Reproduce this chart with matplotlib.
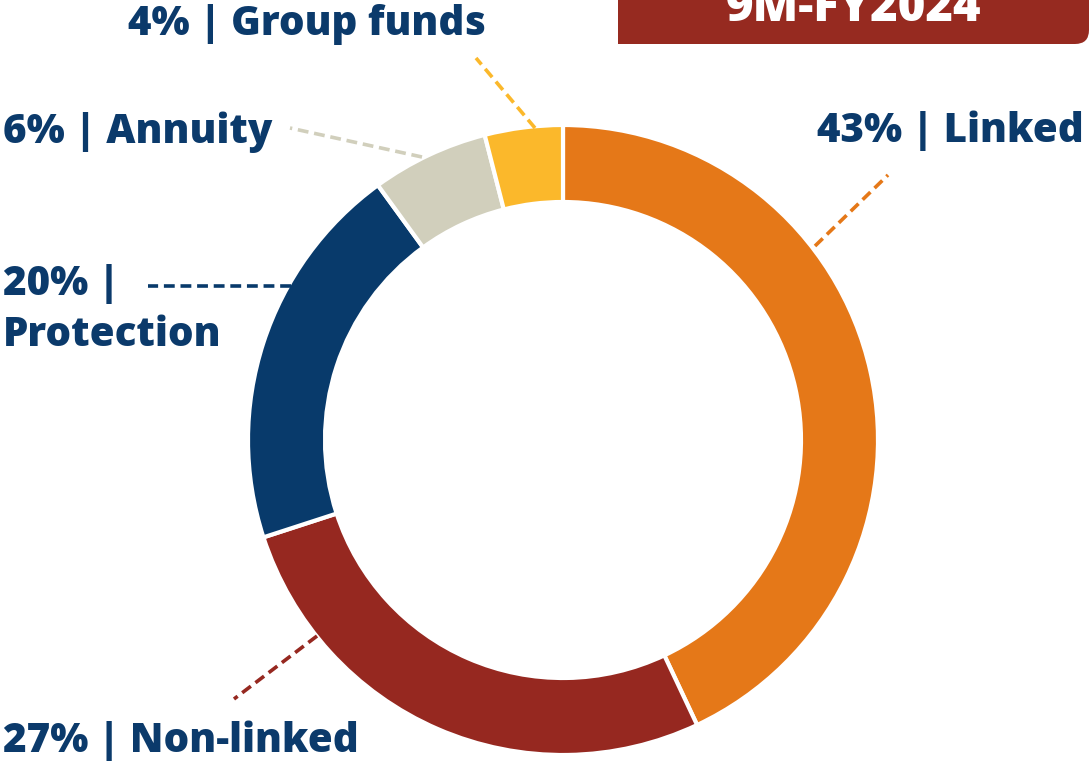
import matplotlib
matplotlib.use("Agg")
import matplotlib.pyplot as plt
from matplotlib.patches import FancyBboxPatch, Rectangle

labels = ["Linked", "Non-linked", "Protection", "Annuity", "Group funds"]
shares = [43, 27, 20, 6, 4]
colors = ["#E57818", "#962820", "#083A6B", "#D1CFBC", "#FBB82B"]
title = "9M-FY2024"

W, H = 1089, 764
NAVY = "#0B3A6B"
plt.rcParams['font.family'] = ['Open Sans', 'DejaVu Sans']


def P(x, y):
    # pixel coords (origin top-left) -> data coords
    return x, H - y


fig = plt.figure(figsize=(W / 100, H / 100), dpi=100)
ax = fig.add_axes([0, 0, 1, 1])

ax.pie(shares, colors=colors, startangle=90, counterclock=False,
       center=P(563, 440), radius=315, frame=True,
       wedgeprops=dict(width=77, edgecolor="white", linewidth=3))
ax.set_xlim(0, W)
ax.set_ylim(0, H)
ax.set_aspect("equal")
ax.axis("off")

# leader lines (layout)
leaders = {
    "Linked": ((815, 246), (888, 175)),
    "Non-linked": ((317, 636), (234, 699)),
    "Protection": ((291, 286), (148, 286)),
    "Annuity": ((422, 157), (290, 128)),
    "Group funds": ((535, 128), (476, 58)),
}
for lab, col in zip(labels, colors):
    (x0, y0), (x1, y1) = leaders[lab]
    ax.plot([P(x0, y0)[0], P(x1, y1)[0]], [P(x0, y0)[1], P(x1, y1)[1]],
            ls=(0, (3, 1.6)), lw=2.6, color=col, solid_capstyle="butt")

fs = 29
wt = 800
# x, baseline y, alignment
texts = {
    "Linked": (1084, 142, "right"),
    "Non-linked": (3, 752, "left"),
    "Annuity": (3, 143, "left"),
    "Group funds": (128, 35, "left"),
}
for lab, s in zip(labels, shares):
    if lab == "Protection":
        ax.text(*P(3, 295), f"{s}% |", fontsize=fs, fontweight=wt,
                color=NAVY, ha="left", va="baseline")
        ax.text(*P(3, 346), lab, fontsize=fs, fontweight=wt,
                color=NAVY, ha="left", va="baseline")
        continue
    x, y, ha = texts[lab]
    ax.text(*P(x, y), f"{s}% | {lab}", fontsize=fs, fontweight=wt,
            color=NAVY, ha=ha, va="baseline")

# title banner
box = FancyBboxPatch(P(618, 44), 471, 80, boxstyle="round,pad=0,rounding_size=14",
                     facecolor="#962A20", edgecolor="none")
ax.add_patch(box)
ax.add_patch(Rectangle(P(618, 44), 40, 80, facecolor="#962A20", edgecolor="none"))
ax.text(*P(854, 21), title, fontsize=34, fontweight=wt, color="white",
        ha="center", va="baseline")

fig.savefig("out.png", dpi=100)
